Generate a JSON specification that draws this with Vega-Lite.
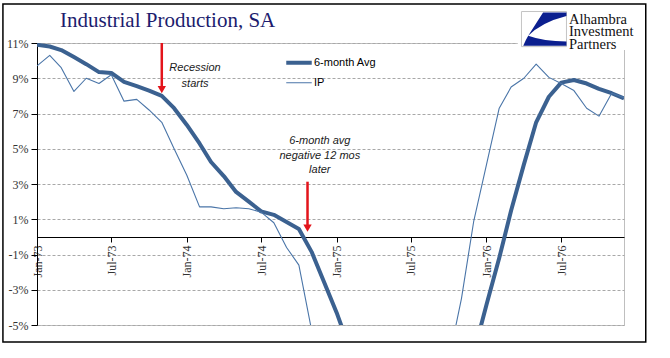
{
  "$schema": "https://vega.github.io/schema/vega-lite/v6.json",
  "width": 587,
  "height": 282,
  "autosize": {"type": "none"},
  "padding": {"left": 37, "top": 43, "right": 46, "bottom": 33},
  "background": "white",
  "datasets": {
    "series": [
      {"date": "1973-01-01", "series": "6-month Avg", "value": 10.9},
      {"date": "1973-02-01", "series": "6-month Avg", "value": 10.8},
      {"date": "1973-03-01", "series": "6-month Avg", "value": 10.6},
      {"date": "1973-04-01", "series": "6-month Avg", "value": 10.2},
      {"date": "1973-05-01", "series": "6-month Avg", "value": 9.8},
      {"date": "1973-06-01", "series": "6-month Avg", "value": 9.35},
      {"date": "1973-07-01", "series": "6-month Avg", "value": 9.3},
      {"date": "1973-08-01", "series": "6-month Avg", "value": 8.8},
      {"date": "1973-09-01", "series": "6-month Avg", "value": 8.55},
      {"date": "1973-10-01", "series": "6-month Avg", "value": 8.3},
      {"date": "1973-11-01", "series": "6-month Avg", "value": 8.0},
      {"date": "1973-12-01", "series": "6-month Avg", "value": 7.3},
      {"date": "1974-01-01", "series": "6-month Avg", "value": 6.35},
      {"date": "1974-02-01", "series": "6-month Avg", "value": 5.3},
      {"date": "1974-03-01", "series": "6-month Avg", "value": 4.25},
      {"date": "1974-04-01", "series": "6-month Avg", "value": 3.45},
      {"date": "1974-05-01", "series": "6-month Avg", "value": 2.55},
      {"date": "1974-06-01", "series": "6-month Avg", "value": 2.0},
      {"date": "1974-07-01", "series": "6-month Avg", "value": 1.45},
      {"date": "1974-08-01", "series": "6-month Avg", "value": 1.25},
      {"date": "1974-09-01", "series": "6-month Avg", "value": 0.85},
      {"date": "1974-10-01", "series": "6-month Avg", "value": 0.45},
      {"date": "1974-11-01", "series": "6-month Avg", "value": -0.85},
      {"date": "1974-12-01", "series": "6-month Avg", "value": -2.55},
      {"date": "1975-01-01", "series": "6-month Avg", "value": -4.3},
      {"date": "1975-02-01", "series": "6-month Avg", "value": -6.3},
      {"date": "1975-03-01", "series": "6-month Avg", "value": -8.0},
      {"date": "1975-04-01", "series": "6-month Avg", "value": -9.5},
      {"date": "1975-05-01", "series": "6-month Avg", "value": -10.8},
      {"date": "1975-06-01", "series": "6-month Avg", "value": -11.5},
      {"date": "1975-07-01", "series": "6-month Avg", "value": -11.8},
      {"date": "1975-08-01", "series": "6-month Avg", "value": -11.5},
      {"date": "1975-09-01", "series": "6-month Avg", "value": -10.6},
      {"date": "1975-10-01", "series": "6-month Avg", "value": -9.6},
      {"date": "1975-11-01", "series": "6-month Avg", "value": -8.4},
      {"date": "1975-12-01", "series": "6-month Avg", "value": -6.6},
      {"date": "1976-01-01", "series": "6-month Avg", "value": -3.85},
      {"date": "1976-02-01", "series": "6-month Avg", "value": -1.2},
      {"date": "1976-03-01", "series": "6-month Avg", "value": 1.5},
      {"date": "1976-04-01", "series": "6-month Avg", "value": 4.1},
      {"date": "1976-05-01", "series": "6-month Avg", "value": 6.5},
      {"date": "1976-06-01", "series": "6-month Avg", "value": 7.95},
      {"date": "1976-07-01", "series": "6-month Avg", "value": 8.75},
      {"date": "1976-08-01", "series": "6-month Avg", "value": 8.9},
      {"date": "1976-09-01", "series": "6-month Avg", "value": 8.7},
      {"date": "1976-10-01", "series": "6-month Avg", "value": 8.4},
      {"date": "1976-11-01", "series": "6-month Avg", "value": 8.15},
      {"date": "1976-12-01", "series": "6-month Avg", "value": 7.85},
      {"date": "1973-01-01", "series": "IP", "value": 9.7},
      {"date": "1973-02-01", "series": "IP", "value": 10.3},
      {"date": "1973-03-01", "series": "IP", "value": 9.6},
      {"date": "1973-04-01", "series": "IP", "value": 8.25},
      {"date": "1973-05-01", "series": "IP", "value": 9.0},
      {"date": "1973-06-01", "series": "IP", "value": 8.7},
      {"date": "1973-07-01", "series": "IP", "value": 9.2},
      {"date": "1973-08-01", "series": "IP", "value": 7.7},
      {"date": "1973-09-01", "series": "IP", "value": 7.8},
      {"date": "1973-10-01", "series": "IP", "value": 7.2},
      {"date": "1973-11-01", "series": "IP", "value": 6.5},
      {"date": "1973-12-01", "series": "IP", "value": 5.0},
      {"date": "1974-01-01", "series": "IP", "value": 3.5},
      {"date": "1974-02-01", "series": "IP", "value": 1.7},
      {"date": "1974-03-01", "series": "IP", "value": 1.7},
      {"date": "1974-04-01", "series": "IP", "value": 1.6},
      {"date": "1974-05-01", "series": "IP", "value": 1.65},
      {"date": "1974-06-01", "series": "IP", "value": 1.6},
      {"date": "1974-07-01", "series": "IP", "value": 1.4},
      {"date": "1974-08-01", "series": "IP", "value": 0.8},
      {"date": "1974-09-01", "series": "IP", "value": -0.6},
      {"date": "1974-10-01", "series": "IP", "value": -1.6},
      {"date": "1974-11-01", "series": "IP", "value": -5.3},
      {"date": "1974-12-01", "series": "IP", "value": -8.2},
      {"date": "1975-01-01", "series": "IP", "value": -10.3},
      {"date": "1975-02-01", "series": "IP", "value": -11.8},
      {"date": "1975-03-01", "series": "IP", "value": -12.6},
      {"date": "1975-04-01", "series": "IP", "value": -12.6},
      {"date": "1975-05-01", "series": "IP", "value": -12.3},
      {"date": "1975-06-01", "series": "IP", "value": -11.2},
      {"date": "1975-07-01", "series": "IP", "value": -10.0},
      {"date": "1975-08-01", "series": "IP", "value": -8.6},
      {"date": "1975-09-01", "series": "IP", "value": -7.6},
      {"date": "1975-10-01", "series": "IP", "value": -7.0},
      {"date": "1975-11-01", "series": "IP", "value": -3.5},
      {"date": "1975-12-01", "series": "IP", "value": 0.9},
      {"date": "1976-01-01", "series": "IP", "value": 4.1},
      {"date": "1976-02-01", "series": "IP", "value": 7.3},
      {"date": "1976-03-01", "series": "IP", "value": 8.5},
      {"date": "1976-04-01", "series": "IP", "value": 9.0},
      {"date": "1976-05-01", "series": "IP", "value": 9.8},
      {"date": "1976-06-01", "series": "IP", "value": 9.05},
      {"date": "1976-07-01", "series": "IP", "value": 8.7},
      {"date": "1976-08-01", "series": "IP", "value": 8.3},
      {"date": "1976-09-01", "series": "IP", "value": 7.3},
      {"date": "1976-10-01", "series": "IP", "value": 6.85},
      {"date": "1976-11-01", "series": "IP", "value": 8.15},
      {"date": "1976-12-01", "series": "IP", "value": 7.9}
    ],
    "one": [{}]
  },
  "config": {
    "view": {"stroke": "#bfbfbf", "strokeWidth": 1},
    "font": "Liberation Sans"
  },
  "layer": [
    {
      "data": {"name": "series"},
      "mark": {"type": "line", "clip": true, "strokeJoin": "round"},
      "encoding": {
        "x": {
          "field": "date",
          "type": "temporal",
          "title": null,
          "scale": {
            "type": "utc",
            "domain": [
              {"year": 1973, "month": 1, "date": 1, "utc": true},
              {"year": 1976, "month": 12, "date": 1, "utc": true}
            ]
          },
          "axis": {
            "values": [
              {"year": 1973, "month": 1, "date": 1, "utc": true},
              {"year": 1973, "month": 7, "date": 1, "utc": true},
              {"year": 1974, "month": 1, "date": 1, "utc": true},
              {"year": 1974, "month": 7, "date": 1, "utc": true},
              {"year": 1975, "month": 1, "date": 1, "utc": true},
              {"year": 1975, "month": 7, "date": 1, "utc": true},
              {"year": 1976, "month": 1, "date": 1, "utc": true},
              {"year": 1976, "month": 7, "date": 1, "utc": true}
            ],
            "tickCount": 20,
            "format": "%b-%y",
            "offset": -88,
            "labelAngle": 270,
            "labelFlush": false,
            "labelOverlap": false,
            "labelFont": "Liberation Serif",
            "labelFontSize": 12,
            "labelColor": "#333333",
            "labelPadding": 3,
            "tickSize": 5,
            "tickColor": "#000000",
            "domainColor": "#000000",
            "grid": false
          }
        },
        "y": {
          "field": "value",
          "type": "quantitative",
          "title": null,
          "scale": {"domain": [-5, 11], "nice": false, "zero": false},
          "axis": {
            "values": [-5, -3, -1, 1, 3, 5, 7, 9, 11],
            "tickCount": 20,
            "labelOverlap": false,
            "labelExpr": "datum.value + '%'",
            "labelFont": "Liberation Serif",
            "labelFontSize": 12,
            "labelColor": "#333333",
            "labelPadding": 3,
            "tickSize": 6,
            "tickColor": "#000000",
            "domainColor": "#000000",
            "grid": true,
            "gridColor": "#a8a8a8",
            "gridDash": [3, 2]
          }
        },
        "color": {
          "field": "series",
          "type": "nominal",
          "scale": {"domain": ["6-month Avg", "IP"], "range": ["#3b6190", "#4a75a8"]},
          "legend": {
            "orient": "none", "legendX": 247, "legendY": 10, "title": null,
            "symbolType": "stroke", "symbolSize": 650, "padding": 0,
            "labelFont": "Liberation Sans", "labelFontSize": 11, "labelColor": "#000000",
            "labelOffset": 0, "rowPadding": 0, "clipHeight": 19.5
          }
        },
        "strokeWidth": {
          "field": "series",
          "type": "nominal",
          "scale": {"domain": ["6-month Avg", "IP"], "range": [4, 1.1]},
          "legend": {
            "orient": "none", "legendX": 247, "legendY": 10, "title": null,
            "symbolType": "stroke", "symbolSize": 650, "padding": 0,
            "labelFont": "Liberation Sans", "labelFontSize": 11, "labelColor": "#000000",
            "labelOffset": 0, "rowPadding": 0, "clipHeight": 19.5
          }
        }
      }
    },
    {
      "data": {"name": "one"},
      "mark": {"type": "rule", "clip": false, "color": "#e3141b", "strokeWidth": 2.5},
      "encoding": {
        "x": {"datum": {"year": 1973, "month": 11, "date": 1, "utc": true}, "type": "temporal", "title": null},
        "y": {"datum": 11, "type": "quantitative", "title": null},
        "y2": {"datum": 8.5}
      }
    },
    {
      "data": {"name": "one"},
      "mark": {"type": "point", "shape": "triangle-down", "filled": true, "size": 70, "opacity": 1, "color": "#e3141b", "strokeWidth": 0, "clip": false},
      "encoding": {
        "x": {"datum": {"year": 1973, "month": 11, "date": 1, "utc": true}, "type": "temporal", "title": null},
        "y": {"datum": 8.35, "type": "quantitative", "title": null}
      }
    },
    {
      "data": {"name": "one"},
      "mark": {"type": "rule", "clip": false, "color": "#e3141b", "strokeWidth": 2.5},
      "encoding": {
        "x": {"datum": {"year": 1974, "month": 10, "date": 22, "utc": true}, "type": "temporal", "title": null},
        "y": {"datum": 3.13, "type": "quantitative", "title": null},
        "y2": {"datum": 0.65}
      }
    },
    {
      "data": {"name": "one"},
      "mark": {"type": "point", "shape": "triangle-down", "filled": true, "size": 70, "opacity": 1, "color": "#e3141b", "strokeWidth": 0, "clip": false},
      "encoding": {
        "x": {"datum": {"year": 1974, "month": 10, "date": 22, "utc": true}, "type": "temporal", "title": null},
        "y": {"datum": 0.5, "type": "quantitative", "title": null}
      }
    },
    {
      "data": {"name": "one"},
      "mark": {"type": "text", "clip": false, "align": "center", "baseline": "alphabetic", "fontStyle": "italic", "font": "Liberation Sans", "fontSize": 11, "lineHeight": 16, "color": "#1a1a1a"},
      "encoding": {
        "x": {"datum": {"year": 1974, "month": 1, "date": 21, "utc": true}, "type": "temporal", "title": null},
        "y": {"datum": 9.43, "type": "quantitative", "title": null},
        "text": {"value": ["Recession", "starts"]}
      }
    },
    {
      "data": {"name": "one"},
      "mark": {"type": "text", "clip": false, "align": "center", "baseline": "alphabetic", "fontStyle": "italic", "font": "Liberation Sans", "fontSize": 11, "lineHeight": 14.6, "color": "#1a1a1a"},
      "encoding": {
        "x": {"datum": {"year": 1974, "month": 11, "date": 21, "utc": true}, "type": "temporal", "title": null},
        "y": {"datum": 5.27, "type": "quantitative", "title": null},
        "text": {"value": ["6-month avg", "negative 12 mos", "later"]}
      }
    },
    {
      "data": {"name": "one"},
      "mark": {"type": "rect", "clip": false, "color": "white", "filled": true},
      "encoding": {
        "x": {"datum": {"year": 1976, "month": 3, "date": 17, "utc": true}, "type": "temporal", "title": null},
        "x2": {"datum": {"year": 1977, "month": 1, "date": 9, "utc": true}},
        "y": {"datum": 12.99, "type": "quantitative", "title": null},
        "y2": {"datum": 10.6}
      }
    },
    {
      "data": {"name": "one"},
      "mark": {"type": "point", "clip": false, "shape": "M-1,-0.78L1,-0.78L1,0.78L-1,0.78Z", "filled": true, "fill": "white", "stroke": "#c4c4c4", "strokeWidth": 1, "size": 2025, "opacity": 1},
      "encoding": {
        "x": {"datum": {"year": 1976, "month": 5, "date": 20, "utc": true}, "type": "temporal", "title": null},
        "y": {"datum": 11.79, "type": "quantitative", "title": null}
      }
    },
    {
      "data": {"name": "one"},
      "mark": {"type": "point", "clip": false, "shape": "M-0.04,-0.74L1,-0.74L1,-0.58Q-0.11,-0.3,-0.7,0.3Z M-0.7,0.3Q-0.82,0.5,-0.92,0.74L1,0.74L1,0.55Q-0.02,0.55,-0.7,0.3Z", "filled": true, "color": "#0b1f8f", "strokeWidth": 0, "size": 2025, "opacity": 1},
      "encoding": {
        "x": {"datum": {"year": 1976, "month": 5, "date": 20, "utc": true}, "type": "temporal", "title": null},
        "y": {"datum": 11.79, "type": "quantitative", "title": null}
      }
    },
    {
      "data": {"name": "one"},
      "mark": {"type": "text", "clip": false, "align": "left", "baseline": "alphabetic", "font": "Liberation Serif", "fontSize": 14.5, "lineHeight": 12.5, "color": "#111111"},
      "encoding": {
        "x": {"datum": {"year": 1976, "month": 7, "date": 20, "utc": true}, "type": "temporal", "title": null},
        "y": {"datum": 12.1, "type": "quantitative", "title": null},
        "text": {"value": ["Alhambra", "Investment", "Partners"]}
      }
    },
    {
      "data": {"name": "one"},
      "mark": {"type": "text", "clip": false, "align": "left", "baseline": "alphabetic", "font": "Liberation Serif", "fontSize": 21, "color": "#1c1c6e"},
      "encoding": {
        "x": {"datum": {"year": 1973, "month": 2, "date": 26, "utc": true}, "type": "temporal", "title": null},
        "y": {"datum": 11.89, "type": "quantitative", "title": null},
        "text": {"value": "Industrial Production, SA"}
      }
    },
    {
      "data": {"name": "one"},
      "mark": {"type": "rect", "clip": false, "filled": false, "color": "#000000", "strokeWidth": 1.5},
      "encoding": {
        "x": {"datum": {"year": 1972, "month": 10, "date": 10, "utc": true}, "type": "temporal", "title": null},
        "x2": {"datum": {"year": 1977, "month": 1, "date": 23, "utc": true}},
        "y": {"datum": 13.21, "type": "quantitative", "title": null},
        "y2": {"datum": -5.965}
      }
    }
  ]
}
